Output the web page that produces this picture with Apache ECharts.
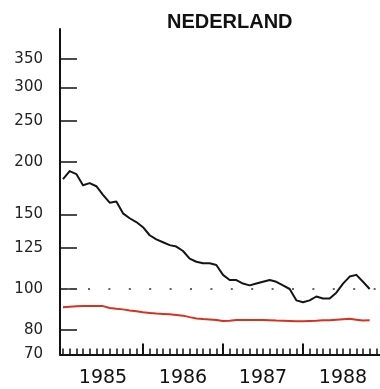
<!DOCTYPE html>
<html>
<head>
<meta charset="utf-8">
<script src="https://cdn.jsdelivr.net/npm/echarts@6/dist/echarts.min.js"></script>
<style>
html,body{margin:0;padding:0;background:#fff;}
#c{width:380px;height:389px;}
</style>
</head>
<body>
<div id="c"></div>
<script>
// Months since Jan 1985 (0 = Jan 1985)
var months = [0,1,2,3,4,5,6,7,8,9,10,11,12,13,14,15,16,17,18,19,20,21,22,23,24,25,26,27,28,29,30,31,32,33,34,35,36,37,38,39,40,41,42,43,44,45,46];
// Black series (index)
var blackValues = [182,190,187,176,178,175,167,160,161,151,147,144,140,134,131,129,127,126,123,118,116,115,115,114,108,105,105,103,102,103,104,105,104,102,100,94,93,94,96,95,95,98,103,107,108,104,100];
// Red series
var redValues = [90.6,90.8,91.0,91.1,91.2,91.2,91.1,90.2,89.8,89.5,89.0,88.6,88.1,87.8,87.5,87.3,87.1,86.8,86.5,85.8,85.2,84.9,84.7,84.5,84.0,84.1,84.5,84.5,84.5,84.5,84.5,84.4,84.2,84.1,84.0,83.9,83.9,84.0,84.1,84.3,84.4,84.6,84.8,85.0,84.6,84.2,84.4];
// Y tick labels (log scale)
var yTickLabels = [70,80,100,125,150,200,250,300,350];
var yTickMarks = [80,100,125,150,200,250,300,350];
var yMin = 70, yMax = 412;
var refValue = 100;
// X labels
var yearLabels = ['1985','1986','1987','1988'];
var yearLabelPos = [6,18,30,42];
var yearTickPos = [12,24,36];
var monthTickPos = [];
for (var i = 0; i < 48; i++) { if (yearTickPos.indexOf(i) < 0) monthTickPos.push(i); }

function lg(v){ return Math.log10(v); }

var chart = echarts.init(document.getElementById('c'), null, {renderer:'canvas'});
var xCommon = {type:'value', min:-0.45, max:47.55, splitLine:{show:false}, gridIndex:0};
chart.setOption({
  backgroundColor:'#ffffff',
  animation:false,
  title:{text:'NEDERLAND', left:162, top:7,
    textStyle:{fontFamily:'Liberation Sans', fontWeight:'bold', fontSize:20, color:'#111'}},
  grid:{left:60, top:29, width:320, height:325.5},
  xAxis:[
    Object.assign({}, xCommon, {
      position:'bottom',
      axisLine:{show:true, onZero:false, lineStyle:{color:'#111', width:2}},
      axisTick:{show:true, inside:true, length:6, customValues:monthTickPos, lineStyle:{color:'#111', width:1.5}},
      axisLabel:{show:false}
    }),
    Object.assign({}, xCommon, {
      position:'bottom',
      axisLine:{show:false, onZero:false},
      axisTick:{show:true, inside:true, length:11, customValues:yearTickPos, lineStyle:{color:'#111', width:2}},
      axisLabel:{show:true, customValues:yearLabelPos, margin:14,
        fontFamily:'DejaVu Sans', fontSize:19, color:'#111',
        formatter:function(v){ return yearLabels[Math.round((v-6)/12)]; }}
    })
  ],
  yAxis:{
    type:'value', min:lg(yMin), max:lg(yMax),
    splitLine:{show:false},
    axisLine:{show:true, onZero:false, lineStyle:{color:'#111', width:2}},
    axisTick:{show:true, inside:true, length:17, customValues:yTickMarks.map(lg), lineStyle:{color:'#111', width:1.5}},
    axisLabel:{show:true, customValues:yTickLabels.map(lg), margin:17,
      fontFamily:'DejaVu Sans', fontSize:15, color:'#222',
      formatter:function(v){ return String(Math.round(Math.pow(10, v))); }}
  },
  series:[
    {
      type:'line', xAxisIndex:0, symbol:'none', smooth:false,
      data: months.map(function(m,i){ return [m, lg(redValues[i])]; }),
      lineStyle:{color:'#d8311f', width:2}
    },
    {
      type:'line', xAxisIndex:0, symbol:'none', smooth:false,
      data: months.map(function(m,i){ return [m, lg(blackValues[i])]; }),
      lineStyle:{color:'#151515', width:2, join:'round'},
      markLine:{silent:true, symbol:'none', label:{show:false},
        lineStyle:{color:'#666', width:2, type:[2,18.4], dashOffset:12.8},
        data:[{yAxis:lg(refValue)}]}
    }
  ]
});
</script>
</body>
</html>
